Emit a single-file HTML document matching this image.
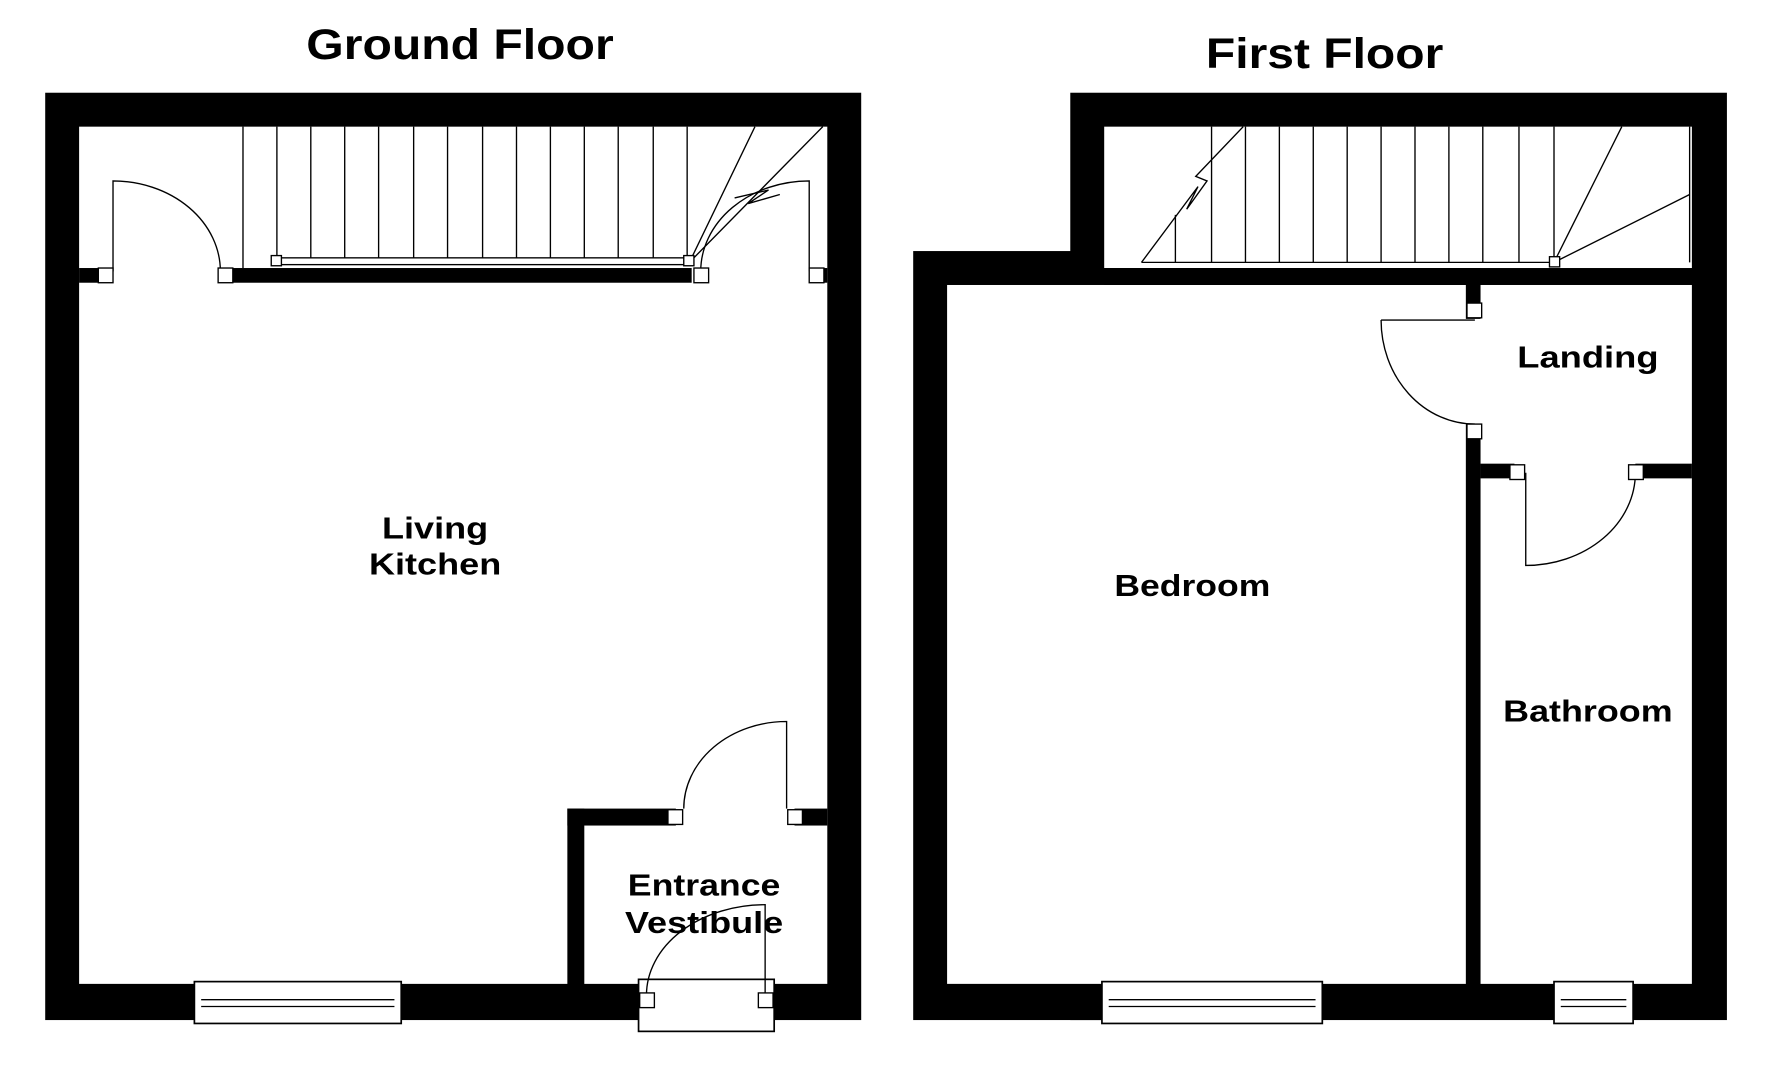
<!DOCTYPE html>
<html><head><meta charset="utf-8"><style>html,body{margin:0;padding:0;background:#fff}svg{display:block}text{font-family:"Liberation Sans","DejaVu Sans",sans-serif;font-weight:bold;fill:#000;text-anchor:middle}</style></head><body>
<svg width="1771" height="1080" viewBox="0 0 1567 955" preserveAspectRatio="none" xmlns="http://www.w3.org/2000/svg">
<rect width="1567" height="955" fill="#fff"/>
<!-- Ground floor -->
<rect x="40" y="82" width="722" height="820" fill="#000"/>
<rect x="70" y="112" width="662" height="758" fill="#fff"/>
<rect x="200" y="237" width="412" height="13" fill="#000"/>
<rect x="70" y="237" width="25" height="13" fill="#000"/>
<rect x="716" y="237" width="16" height="13" fill="#000"/>
<rect x="502" y="715" width="15" height="160" fill="#000"/>
<rect x="502" y="715" width="96" height="15" fill="#000"/>
<rect x="703" y="715" width="29" height="15" fill="#000"/>
<rect x="565" y="866" width="120" height="46" fill="#fff" stroke="#000" stroke-width="1.5"/>
<rect x="172" y="868" width="183" height="37" fill="#fff" stroke="#000" stroke-width="1.5"/>
<!-- First floor -->
<rect x="947" y="82" width="581" height="820" fill="#000"/>
<rect x="808" y="222" width="200" height="680" fill="#000"/>
<rect x="977" y="112" width="520" height="125" fill="#fff"/>
<rect x="838" y="252" width="659" height="618" fill="#fff"/>
<rect x="977" y="237" width="333" height="15" fill="#000"/>
<rect x="1297" y="237" width="13" height="45" fill="#000"/>
<rect x="1297" y="375" width="13" height="500" fill="#000"/>
<rect x="1310" y="410" width="30" height="13" fill="#000"/>
<rect x="1447" y="410" width="50" height="13" fill="#000"/>
<rect x="975" y="868" width="195" height="37" fill="#fff" stroke="#000" stroke-width="1.5"/>
<rect x="1375" y="868" width="70" height="37" fill="#fff" stroke="#000" stroke-width="1.5"/>
<g stroke="#000" stroke-width="1.2" fill="none">
<line x1="178" y1="884" x2="349" y2="884"/><line x1="178" y1="890" x2="349" y2="890"/>
<line x1="215" y1="112" x2="215" y2="237"/>
<path d="M245 112V230M275 112V230M305 112V230M335 112V230M366 112V230M396 112V230M427 112V230M457 112V230M487 112V230M517 112V230M547 112V230M578 112V230M608 112V230"/>
<rect x="245" y="228" width="365" height="6" fill="#fff"/>
<line x1="610" y1="232" x2="668" y2="112"/><line x1="610" y1="232" x2="728" y2="112"/>
<path d="M650 175 L680 168 L662 180 L690 172"/>
<path d="M100 240 V160 A95 80 0 0 1 195 240"/>
<path d="M716 240 V160 A96 80 0 0 0 620 240"/>
<path d="M696 715 V638 A91 77 0 0 0 605 715"/>
<path d="M677 880 V800 A105 80 0 0 0 572 880"/>
<line x1="981" y1="884" x2="1164" y2="884"/><line x1="981" y1="890" x2="1164" y2="890"/>
<line x1="1381" y1="884" x2="1439" y2="884"/><line x1="1381" y1="890" x2="1439" y2="890"/>
<path d="M1040 190V232M1072 112V232M1102 112V232M1132 112V232M1162 112V232M1192 112V232M1222 112V232M1252 112V232M1282 112V232M1312 112V232M1344 112V232M1375 112V232"/>
<line x1="1010" y1="232" x2="1375" y2="232"/>
<path d="M1010 232 L1060 165 L1050 185 L1068 160 L1058 156 L1100 112"/>
<line x1="1375" y1="232" x2="1435" y2="112"/><line x1="1375" y1="232" x2="1495" y2="172"/>
<line x1="1495" y1="112" x2="1495" y2="232"/>
<path d="M1222 283 H1305 M1222 283 A83 92 0 0 0 1305 375"/>
<path d="M1350 418 V500 A97 82 0 0 0 1447 418"/>
</g>
<g fill="#fff" stroke="#000" stroke-width="1.2">
<rect x="87" y="237" width="13" height="13"/><rect x="193" y="237" width="13" height="13"/>
<rect x="240" y="226" width="9" height="9"/><rect x="605" y="226" width="9" height="9"/>
<rect x="614" y="237" width="13" height="13"/><rect x="716" y="237" width="13" height="13"/>
<rect x="591" y="716" width="13" height="13"/><rect x="697" y="716" width="13" height="13"/>
<rect x="566" y="878" width="13" height="13"/><rect x="671" y="878" width="13" height="13"/>
<rect x="1371" y="227" width="9" height="9"/>
<rect x="1298" y="268" width="13" height="13"/><rect x="1298" y="375" width="13" height="13"/>
<rect x="1336" y="411" width="13" height="13"/><rect x="1441" y="411" width="13" height="13"/>
</g>
<text x="407" y="52" font-size="38" textLength="272" lengthAdjust="spacingAndGlyphs">Ground Floor</text>
<text x="385" y="476" font-size="27" textLength="94" lengthAdjust="spacingAndGlyphs">Living</text>
<text x="385" y="508" font-size="27" textLength="117" lengthAdjust="spacingAndGlyphs">Kitchen</text>
<text x="623" y="792" font-size="27" textLength="135" lengthAdjust="spacingAndGlyphs">Entrance</text>
<text x="623" y="825" font-size="27" textLength="140" lengthAdjust="spacingAndGlyphs">Vestibule</text>
<text x="1172" y="60" font-size="38" textLength="210" lengthAdjust="spacingAndGlyphs">First Floor</text>
<text x="1405" y="325" font-size="27" textLength="125" lengthAdjust="spacingAndGlyphs">Landing</text>
<text x="1055" y="527" font-size="27" textLength="138" lengthAdjust="spacingAndGlyphs">Bedroom</text>
<text x="1405" y="638" font-size="27" textLength="150" lengthAdjust="spacingAndGlyphs">Bathroom</text>
</svg>
</body></html>
